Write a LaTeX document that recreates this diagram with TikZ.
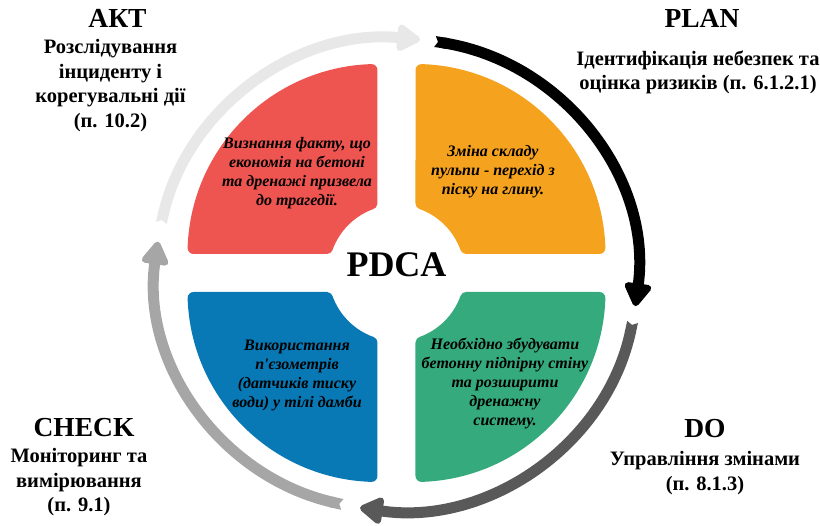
\documentclass[tikz,border=0pt]{standalone}
\usepackage{fontspec}
\setmainfont{Liberation Serif}
\usetikzlibrary{calc,arrows.meta,positioning}

\definecolor{actred}{HTML}{EE5551}
\definecolor{planorange}{HTML}{F5A21E}
\definecolor{checkblue}{HTML}{0879B5}
\definecolor{dogreen}{HTML}{35AA7C}
\definecolor{ringlight}{HTML}{E8E8E8}
\definecolor{ringmid}{HTML}{A6A6A6}
\definecolor{ringdark}{HTML}{595959}

\begin{document}
\begin{tikzpicture}[
  x=1pt, y=1pt,
  ring/.style={line width=11pt,
    {Triangle Cap[reversed,length=3pt]}-{Triangle[length=26pt,width=30pt,round]}},
  quadrant/.style={line width=12pt, line join=round},
  phase/.style={font=\fontsize{27.5}{30}\selectfont\bfseries, inner sep=0pt},
  phasenote/.style={font=\fontsize{20.5}{24.5}\selectfont\bfseries, align=center, inner sep=0pt},
  quadtext/.style={font=\fontsize{16}{19}\selectfont\bfseries\itshape, align=center, inner sep=0pt}
]
\useasboundingbox (-396.5,-253) rectangle (423.5,273);
\coordinate (ring) at (0,-1.5);

% four quadrants, cut round the centre (the thick stroke rounds the corners)
\foreach \ang/\col in {0/planorange, 90/actred, 180/checkblue, 270/dogreen}
  \filldraw[quadrant, \col, rotate=\ang]
    (69.65,25) -- (202.9,25) arc[start angle=1.87, end angle=88.13, radius=184]
    -- (25,69.65) arc[start angle=70.26, end angle=19.74, radius=74] -- cycle;

% cycle arrows round the outside
\foreach \col/\from/\to in {ringlight/167.4/84.4, black/80.8/-7.7,
                            ringdark/-11.6/-98.7, ringmid/257/172}
  \draw[ring, \col] ($(ring)+(\from:241 and 236)$)
    arc[start angle=\from, end angle=\to, x radius=241, y radius=236];

\node[font=\fontsize{36}{40}\selectfont\bfseries, inner sep=0pt] (pdca) at (0,8) {PDCA};

\node[quadtext] (actnote) at (-99.5,100) {Визнання факту, що\\економія на бетоні\\та дренажі призвела\\до трагедії.};
\node[quadtext] (plannote) at (96.5,101) {Зміна складу\\пульпи - перехід з\\піску на глину.};
\node[quadtext] (checknote) at (-99.5,-102) {Використання\\п\textquotesingle єзометрів\\(датчиків тиску\\води) у тілі дамби};
\node[quadtext] (donote) at (108.5,-111) {Необхідно збудувати\\бетонну підпірну стіну\\та розширити\\дренажну\\систему.};

% phase titles
\node[phase] (act) at (-279,255) {АКТ};
\node[phasenote, below=12pt of act, xshift=-7pt] (actsub) {Розслідування\\інциденту і\\корегувальні дії\\(п. 10.2)};
\node[phase] (plan) at (305.5,255) {PLAN};
\node[phasenote, below=23pt of plan, xshift=-4pt] (plansub) {Ідентифікація небезпек та\\оцінка ризиків (п. 6.1.2.1)};
\node[phase] (do) at (308.5,-156) {DO};
\node[phasenote, below=13pt of do] (dosub) {Управління змінами\\(п. 8.1.3)};
\node[phase] (check) at (-312.5,-155) {CHECK};
\node[phasenote, below=11pt of check, xshift=-5pt] (checksub) {Моніторинг та\\вимірювання\\(п. 9.1)};
\end{tikzpicture}
\end{document}
